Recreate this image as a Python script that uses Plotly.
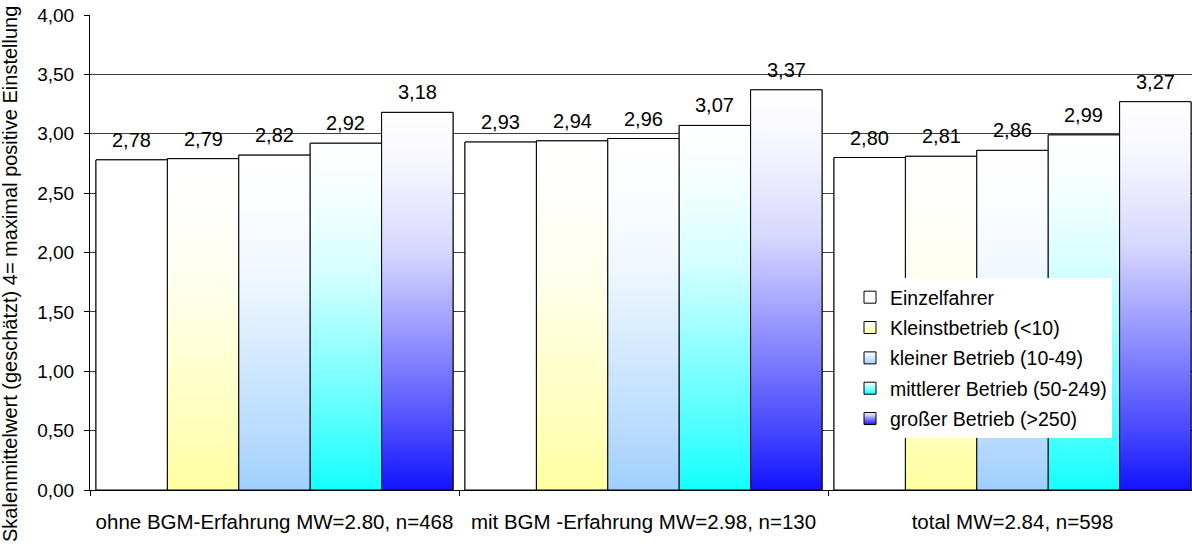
import plotly.graph_objects as go

# Categories (x axis groups)
groups = [
    "ohne BGM-Erfahrung MW=2.80, n=468",
    "mit BGM -Erfahrung MW=2.98, n=130",
    "total MW=2.84, n=598",
]

# Series (company size) and their mean scale values per group
series_names = [
    "Einzelfahrer",
    "Kleinstbetrieb (<10)",
    "kleiner Betrieb (10-49)",
    "mittlerer Betrieb (50-249)",
    "großer Betrieb (>250)",
]
einzelfahrer = [2.78, 2.93, 2.80]
kleinstbetrieb = [2.79, 2.94, 2.81]
kleiner_betrieb = [2.82, 2.96, 2.86]
mittlerer_betrieb = [2.92, 3.07, 2.99]
grosser_betrieb = [3.18, 3.37, 3.27]
series_values = [einzelfahrer, kleinstbetrieb, kleiner_betrieb, mittlerer_betrieb, grosser_betrieb]

# Bottom colour of each bar's white-to-colour gradient
base_colors = [(255, 255, 255), (255, 255, 153), (153, 204, 255), (0, 255, 255), (0, 0, 255)]

y_ticks = [0, 0.5, 1, 1.5, 2, 2.5, 3, 3.5, 4]

BARGAP = 0.0325
N = len(series_names)
BAR_W = (1 - BARGAP) / N
group_pos = list(range(len(groups)))

# Mixing profile: position along bar (0=bottom, 1=top) -> share of base colour
mix_profile = [(0.0, 0.93), (0.15, 0.72), (0.31, 0.53), (0.47, 0.34), (0.63, 0.155), (0.85, 0.04), (1.0, 0.0)]


def mix(rgb, f):
    r, g, b = (round(255 * (1 - f) + c * f) for c in rgb)
    return f"rgb({r},{g},{b})"


def colorscale(rgb):
    return [[p, mix(rgb, f)] for p, f in mix_profile]


def fmt(v):
    return f"{v:.2f}".replace(".", ",")


fig = go.Figure()

# Bars carry the outline
for i, (name, vals) in enumerate(zip(series_names, series_values)):
    fig.add_trace(go.Bar(
        x=group_pos, y=vals, name=name, showlegend=False,
        marker=dict(color="white", line=dict(color="black", width=1)),
        hoverinfo="skip",
    ))

# Vertical gradient fill laid over each bar, in the same data coordinates
annotations = []
for i, (name, vals) in enumerate(zip(series_names, series_values)):
    off = -(1 - BARGAP) / 2 + i * BAR_W
    for g, v in zip(group_pos, vals):
        x0, x1 = g + off, g + off + BAR_W
        fig.add_trace(go.Scatter(
            x=[x0, x1, x1, x0, x0], y=[0, 0, v, v, 0],
            mode="lines", fill="toself",
            fillgradient=dict(type="vertical", colorscale=colorscale(base_colors[i]), start=0, stop=v),
            line=dict(color="black", width=1),
            showlegend=False, hoverinfo="skip",
        ))
        # value label above the bar
        annotations.append(dict(
            x=(x0 + x1) / 2, y=v, xref="x", yref="y", text=fmt(v),
            showarrow=False, xanchor="center", yanchor="bottom", yshift=7,
            font=dict(size=20, color="black"),
        ))

# Legend entries: square markers with the same gradient
for i, name in enumerate(series_names):
    fig.add_trace(go.Scatter(
        x=[None], y=[None], mode="markers", name=name, legendgroup=f"g{i}",
        marker=dict(symbol="square", size=12, color="white",
                    gradient=dict(type="vertical", color=mix(base_colors[i], 0.93)),
                    line=dict(color="black", width=1)),
    ))

annotations.append(dict(
    text="Skalenmittelwert (geschätzt) 4= maximal positive Einstellung",
    xref="paper", yref="paper", x=(10 - 90) / 1102, y=(490 - 274) / 475,
    xanchor="center", yanchor="middle", textangle=-90, showarrow=False,
    font=dict(size=20, color="black"),
))

fig.update_layout(
    width=1192, height=547,
    margin=dict(l=90, r=0, t=15, b=57),
    paper_bgcolor="white", plot_bgcolor="white",
    font=dict(family="Liberation Sans, Arial, sans-serif", size=19, color="black"),
    separators=",.",
    barmode="group", bargap=BARGAP, bargroupgap=0,
    showlegend=True,
    legend=dict(
        x=(850 - 90) / 1102, y=(490 - 278) / 475, xanchor="left", yanchor="top",
        bgcolor="white", borderwidth=0, font=dict(size=19.5),
        tracegroupgap=2, itemwidth=30,
    ),
    xaxis=dict(
        range=[-0.5, 2.4864], tickmode="array", tickvals=group_pos, ticktext=groups,
        ticks="", showgrid=False, zeroline=False,
        showline=True, linecolor="black", linewidth=1,
        ticklabelstandoff=13, tickfont=dict(size=20.5),
        minor=dict(tickvals=[-0.5, 0.5, 1.5, 2.5], ticks="outside", ticklen=5,
                   tickcolor="black", showgrid=False),
    ),
    yaxis=dict(
        range=[0, 4], tickmode="array", tickvals=y_ticks, tickformat=".2f",
        ticks="outside", ticklen=5, tickcolor="black",
        showgrid=True, gridcolor="#404040", gridwidth=1, zeroline=False,
        showline=True, linecolor="black", linewidth=1,
        ticklabelstandoff=6, tickfont=dict(size=19),
    ),
    annotations=annotations,
)

fig.write_html("out.html")
